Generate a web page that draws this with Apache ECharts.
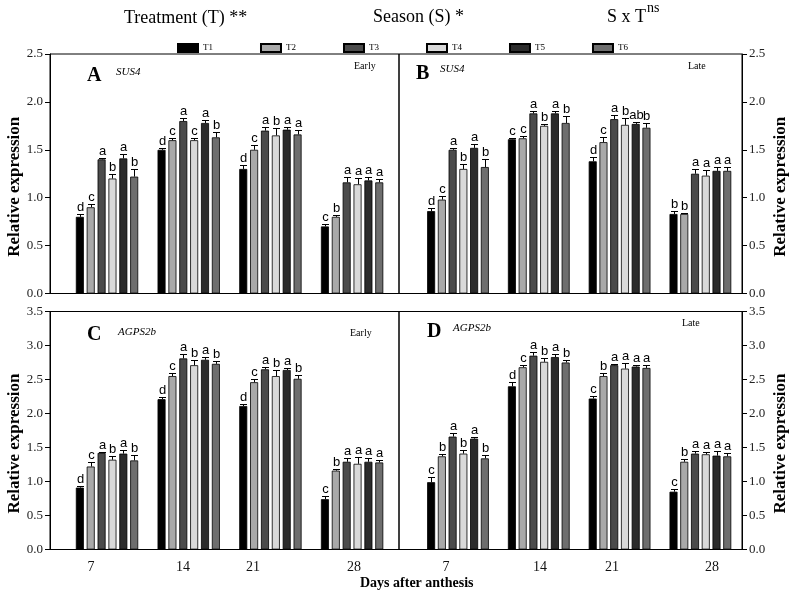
<!DOCTYPE html>
<html><head><meta charset="utf-8">
<script src="https://cdn.jsdelivr.net/npm/echarts@6/dist/echarts.min.js"></script>
<style>html,body{margin:0;padding:0;background:#fff}#c{width:793px;height:593px}</style>
</head><body><div id="c"></div>
<script>
// ---------- data ----------
const days = ['7', '14', '21', '28'];
const treatments = ['T1', 'T2', 'T3', 'T4', 'T5', 'T6'];
const topTicks = [0, 2.5];     // y range of SUS4 panels
const bottomTicks = [0, 3.5];  // y range of AGPS2b panels

// SUS4, early season (rows T1..T6, columns 7,14,21,28 DAA)
const sus4EarlyMean = [
  [0.80, 1.50, 1.30, 0.70],
  [0.90, 1.60, 1.50, 0.80],
  [1.40, 1.80, 1.70, 1.16],
  [1.20, 1.60, 1.65, 1.14],
  [1.41, 1.78, 1.71, 1.18],
  [1.22, 1.63, 1.66, 1.16]
];
const sus4EarlyErr = [
  [0.03, 0.02, 0.04, 0.03],
  [0.03, 0.02, 0.05, 0.02],
  [0.015, 0.03, 0.04, 0.06],
  [0.05, 0.02, 0.08, 0.07],
  [0.045, 0.03, 0.03, 0.04],
  [0.08, 0.06, 0.05, 0.04]
];
const sus4EarlyLetters = [
  ['d', 'd', 'd', 'c'],
  ['c', 'c', 'c', 'b'],
  ['a', 'a', 'a', 'a'],
  ['b', 'c', 'b', 'a'],
  ['a', 'a', 'a', 'a'],
  ['b', 'b', 'a', 'a']
];

// SUS4, late season
const sus4LateMean = [
  [0.86, 1.61, 1.38, 0.83],
  [0.98, 1.62, 1.58, 0.83],
  [1.50, 1.88, 1.82, 1.25],
  [1.30, 1.75, 1.76, 1.23],
  [1.52, 1.88, 1.77, 1.28],
  [1.32, 1.78, 1.73, 1.28]
];
const sus4LateErr = [
  [0.03, 0.01, 0.04, 0.03],
  [0.04, 0.02, 0.05, 0.01],
  [0.015, 0.03, 0.04, 0.05],
  [0.05, 0.02, 0.07, 0.06],
  [0.04, 0.03, 0.02, 0.04],
  [0.08, 0.07, 0.05, 0.04]
];
const sus4LateLetters = [
  ['d', 'c', 'd', 'b'],
  ['c', 'c', 'c', 'b'],
  ['a', 'a', 'a', 'a'],
  ['b', 'b', 'b', 'a'],
  ['a', 'a', 'ab', 'a'],
  ['b', 'b', 'b', 'a']
];

// AGPS2b, early season
const agpsEarlyMean = [
  [0.91, 2.21, 2.11, 0.74],
  [1.22, 2.55, 2.46, 1.16],
  [1.42, 2.81, 2.65, 1.29],
  [1.32, 2.71, 2.55, 1.26],
  [1.41, 2.79, 2.64, 1.29],
  [1.31, 2.73, 2.51, 1.28]
];
const agpsEarlyErr = [
  [0.03, 0.04, 0.03, 0.04],
  [0.06, 0.04, 0.05, 0.03],
  [0.02, 0.07, 0.04, 0.06],
  [0.05, 0.07, 0.09, 0.10],
  [0.05, 0.04, 0.03, 0.05],
  [0.08, 0.04, 0.05, 0.04]
];
const agpsEarlyLetters = [
  ['d', 'd', 'd', 'c'],
  ['c', 'c', 'c', 'b'],
  ['a', 'a', 'a', 'a'],
  ['b', 'b', 'b', 'a'],
  ['a', 'a', 'a', 'a'],
  ['b', 'b', 'b', 'a']
];

// AGPS2b, late season
const agpsLateMean = [
  [0.99, 2.40, 2.22, 0.85],
  [1.37, 2.68, 2.55, 1.29],
  [1.66, 2.85, 2.71, 1.41],
  [1.41, 2.76, 2.66, 1.40],
  [1.63, 2.83, 2.69, 1.38],
  [1.34, 2.75, 2.67, 1.37]
];
const agpsLateErr = [
  [0.08, 0.07, 0.04, 0.04],
  [0.03, 0.04, 0.04, 0.04],
  [0.05, 0.06, 0.02, 0.04],
  [0.06, 0.06, 0.08, 0.03],
  [0.03, 0.04, 0.03, 0.07],
  [0.05, 0.04, 0.05, 0.05]
];
const agpsLateLetters = [
  ['c', 'd', 'c', 'c'],
  ['b', 'c', 'b', 'b'],
  ['a', 'a', 'a', 'a'],
  ['b', 'b', 'a', 'a'],
  ['a', 'a', 'a', 'a'],
  ['b', 'b', 'a', 'a']
];

// ---------- layout / style ----------
const colors = ['#000000', '#a9a9a9', '#4b4b4b', '#d9d9d9', '#2b2b2b', '#6e6e6e'];
const SERIF = 'Liberation Serif';
const SANS = 'Liberation Sans';
const STEP = 0.133;                       // offset between bars inside a group (in group units)
const xRange = [[-0.698, 3.574], [-0.730, 3.515]];     // left / right halves
const xLabelPos = [[-0.196, 0.930, 1.787, 3.023], [-0.149, 1.015, 1.906, 3.144]];

const grids = [
  {left: 50, right: 394, top: 54, bottom: 299.5},
  {left: 399, right: 51, top: 54, bottom: 299.5},
  {left: 50, right: 394, top: 311.5, bottom: 43.5},
  {left: 399, right: 51, top: 311.5, bottom: 43.5}
].map(g => Object.assign(g, {show: true, borderColor: '#000', borderWidth: 1, containLabel: false}));

const panels = [
  {mean: sus4EarlyMean, err: sus4EarlyErr, letters: sus4EarlyLetters, range: topTicks},
  {mean: sus4LateMean, err: sus4LateErr, letters: sus4LateLetters, range: topTicks},
  {mean: agpsEarlyMean, err: agpsEarlyErr, letters: agpsEarlyLetters, range: bottomTicks},
  {mean: agpsLateMean, err: agpsLateErr, letters: agpsLateLetters, range: bottomTicks}
];

const xAxes = [], yAxes = [], series = [];
panels.forEach((pn, p) => {
  const side = p % 2;
  const isBottom = p >= 2;
  const pos = xLabelPos[side];
  xAxes.push({
    type: 'value', gridIndex: p, min: xRange[side][0], max: xRange[side][1],
    axisLine: {show: true, onZero: false, lineStyle: {color: '#000', width: 1}},
    axisTick: {show: false}, splitLine: {show: false},
    axisLabel: isBottom ? {
      show: true, customValues: pos, margin: 11,
      fontFamily: SERIF, fontSize: 14, color: '#111',
      formatter: v => { const k = pos.findIndex(q => Math.abs(q - v) < 1e-6); return k >= 0 ? days[k] : ''; }
    } : {show: false}
  });
  yAxes.push({
    type: 'value', gridIndex: p, min: pn.range[0], max: pn.range[1], interval: 0.5,
    position: side === 0 ? 'left' : 'right',
    axisLine: {show: true, onZero: false, lineStyle: {color: '#000', width: 1}},
    axisTick: {show: true, length: 5, inside: false, lineStyle: {color: '#000'}},
    splitLine: {show: false},
    axisLabel: {margin: 7, fontFamily: SERIF, fontSize: 13, color: '#222', formatter: v => v.toFixed(1)},
    name: 'Relative expression', nameLocation: 'middle', nameRotate: 90,
    nameGap: side === 0 ? 27 : 30,
    nameTextStyle: {fontFamily: SERIF, fontSize: 17, fontWeight: 'bold', color: '#000', padding: [0, 26, 0, 0]}
  });
  treatments.forEach((t, j) => {
    series.push({
      type: 'bar', name: t, xAxisIndex: p, yAxisIndex: p,
      barWidth: 8, barGap: '-100%',
      itemStyle: {color: colors[j], borderColor: '#000', borderWidth: 0.8},
      emphasis: {disabled: true}, silent: true, z: 2,
      data: pn.mean[j].map((v, i) => [i + (j - 2.5) * STEP, v])
    });
  });
  const items = [], labs = [];
  treatments.forEach((t, j) => pn.mean[j].forEach((v, i) => {
    items.push([i + (j - 2.5) * STEP, v, pn.err[j][i]]);
    labs.push(pn.letters[j][i]);
  }));
  series.push({
    type: 'custom', xAxisIndex: p, yAxisIndex: p, z: 5, silent: true,
    encode: {x: 0, y: 1},
    data: items,
    renderItem: (params, api) => {
      const x = api.value(0), v = api.value(1), e = api.value(2);
      const b = api.coord([x, v]);
      const t = api.coord([x, v + e]);
      const cx = Math.round(b[0]) + 0.5;
      const ty = Math.round(t[1]) + 0.5;
      return {
        type: 'group', children: [
          {type: 'line', shape: {x1: cx, y1: b[1], x2: cx, y2: ty}, style: {stroke: '#000', lineWidth: 1}},
          {type: 'line', shape: {x1: cx - 3.5, y1: ty, x2: cx + 3.5, y2: ty}, style: {stroke: '#000', lineWidth: 1}},
          {type: 'text', style: {
            text: labs[params.dataIndex], x: cx, y: ty - 1,
            align: 'center', verticalAlign: 'bottom', textAlign: 'center', textVerticalAlign: 'bottom',
            fontFamily: SANS, fontSize: 13, fill: '#000'
          }}
        ]
      };
    }
  });
});

const txt = (text, x, y, o) => ({type: 'text', left: x, top: y, silent: true,
  style: Object.assign({text, fontFamily: SERIF, fontSize: 11, fill: '#000'}, o || {})});

const option = {
  animation: false,
  backgroundColor: '#fff',
  legend: {
    data: treatments, top: 38, left: 172, itemWidth: 20, itemHeight: 8, itemGap: 47,
    selectedMode: false, icon: 'rect',
    textStyle: {fontFamily: SERIF, fontSize: 9, color: '#000'}
  },
  grid: grids, xAxis: xAxes, yAxis: yAxes, series,
  graphic: [
    txt('Treatment (T) **', 124, 9, {fontSize: 18}),
    txt('Season (S) *', 373, 8, {fontSize: 18}),
    txt('S x T', 607, 8, {fontSize: 18}),
    txt('ns', 647, 1, {fontSize: 14}),
    txt('A', 87, 66, {fontSize: 20, fontWeight: 'bold'}),
    txt('SUS4', 116, 67, {fontStyle: 'italic', fontSize: 11}),
    txt('Early', 354, 61, {fontSize: 10}),
    txt('B', 416, 64, {fontSize: 20, fontWeight: 'bold'}),
    txt('SUS4', 440, 64, {fontStyle: 'italic', fontSize: 11}),
    txt('Late', 688, 61, {fontSize: 10}),
    txt('C', 87, 325, {fontSize: 20, fontWeight: 'bold'}),
    txt('AGPS2b', 118, 327, {fontStyle: 'italic', fontSize: 11}),
    txt('Early', 350, 328, {fontSize: 10}),
    txt('D', 427, 322, {fontSize: 20, fontWeight: 'bold'}),
    txt('AGPS2b', 453, 323, {fontStyle: 'italic', fontSize: 11}),
    txt('Late', 682, 318, {fontSize: 10}),
    txt('Days after anthesis', 360, 576, {fontSize: 14, fontWeight: 'bold'})
  ]
};
const chart = echarts.init(document.getElementById('c'), null, {renderer: 'canvas'});
chart.setOption(option);
</script></body></html>
